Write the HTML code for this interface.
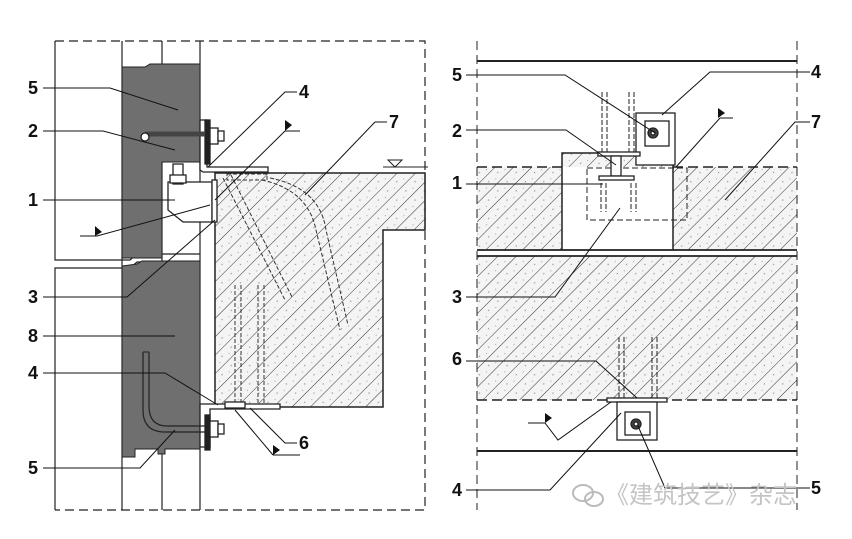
<!DOCTYPE html>
<html><head><meta charset="utf-8"><style>
html,body{margin:0;padding:0;background:#fff;}
svg{display:block;}
text{font-family:"Liberation Sans Narrow","Liberation Sans",sans-serif;font-size:18px;font-weight:bold;fill:#111;}
</style></head><body>
<svg width="852" height="539" viewBox="0 0 852 539" xmlns="http://www.w3.org/2000/svg">
<defs>
<pattern id="h" width="13" height="13" patternUnits="userSpaceOnUse" patternTransform="rotate(45)">
<rect width="13" height="13" fill="#f4f4f4"/>
<line x1="0" y1="0" x2="0" y2="13" stroke="#333" stroke-width="1"/>
<circle cx="6" cy="4" r="0.7" fill="#999"/><circle cx="9" cy="10" r="0.6" fill="#aaa"/>
</pattern>
</defs>
<g fill="none" stroke="#222" stroke-width="1.2">
<path d="M55 41 H425 V510 H55" stroke-dasharray="9 5"/>
<path d="M55 41 V260 H130 L137 254 H200 M55 510 V268 H130 L137 262 H200"/>
<line x1="122" y1="41" x2="122" y2="510"/><line x1="162" y1="41" x2="162" y2="510"/><line x1="200" y1="41" x2="200" y2="510"/>
</g>
<path d="M122 67 L145 67 L150 64 H200 V162 H162 V258 H122 Z" fill="#6f6f6f" stroke="#222"/>
<path d="M122 266 L137 264 L142 261 H200 V449 H165 V454 H158 V449 H135 V457 H122 Z" fill="#6f6f6f" stroke="#222"/>
<path d="M215 173 H425 V230 H383 V407 H215 Z" fill="url(#h)" stroke="#222" stroke-width="1.5"/>
<g fill="none" stroke="#333" stroke-width="1" stroke-dasharray="4 2">
<path d="M223 178 L285 300 M231 175 L292 297"/>
<path d="M262 180 Q308 190 316 230 L340 330 M270 178 Q320 188 326 230 L348 325"/>
<path d="M235 285 V407 M241 285 V407 M258 285 V407 M264 285 V407"/>
<rect x="227" y="174" width="40" height="6"/>
</g>
<g stroke="#222" stroke-width="1.3" fill="#fff">
<path d="M200 120 H207 V167 H268 V172 H203 L200 170 Z"/>
<rect x="205" y="120" width="5" height="44" fill="#222"/>
<rect x="210" y="128" width="8" height="16"/><rect x="218" y="131" width="6" height="10"/>
<path d="M145 134 H205" stroke-width="5" stroke="#444"/>
<circle cx="145" cy="137" r="4"/>
<path d="M168 182 H212 V222 H183 L168 210 Z"/>
<rect x="212" y="180" width="5" height="42" fill="#fff"/>
<rect x="173" y="164" width="10" height="20"/><rect x="170" y="175" width="16" height="8"/>
<path d="M200 404 H280 V409 H210 V447 H200 Z"/>
<rect x="205" y="415" width="5" height="35" fill="#222"/>
<rect x="210" y="421" width="8" height="16"/><rect x="218" y="424" width="6" height="10"/>
<rect x="225" y="402" width="20" height="6"/>
</g>
<path d="M143 352 V410 Q143 432 165 432 H205 M149 352 V406 Q149 426 167 426 H205" fill="none" stroke="#222" stroke-width="1.2"/>
<path d="M143 352 H149" stroke="#222"/>
<path d="M383 167 H428 M388 160 L395 167 L402 160 Z" fill="none" stroke="#222"/>
<g stroke="#111" stroke-width="1" fill="none">
<path d="M43 88 H110 L178 110"/><path d="M43 131 H103 L175 150"/>
<path d="M43 200 H175"/><path d="M43 297 H127 L215 220"/>
<path d="M43 336 H175"/><path d="M43 373 H165 L218 405"/>
<path d="M43 468 H140 L175 430"/>
<path d="M297 92 H285 L208 167"/><path d="M387 122 H375 L305 195"/>
<path d="M297 443 H285 L250 408"/>
<path d="M80 236 H97 L210 205"/>
<path d="M285 131 H300 M285 131 L215 200"/>
<path d="M273 455 H300 M273 455 L235 410"/>
</g>
<g fill="#111"><path d="M95 226 L102 232 L95 236Z"/><path d="M285 120 L292 125 L285 131Z"/><path d="M273 445 L280 450 L273 455Z"/></g>
<text x="28" y="94">5</text><text x="28" y="137">2</text><text x="28" y="206">1</text>
<text x="28" y="303">3</text><text x="28" y="342">8</text><text x="28" y="379">4</text><text x="28" y="474">5</text>
<text x="299" y="98">4</text><text x="389" y="128">7</text><text x="299" y="449">6</text>

<path d="M477 167 H797 V250 H673 V153 H562 V250 H477 Z" fill="url(#h)"/>
<rect x="477" y="256" width="320" height="144" fill="url(#h)"/>
<g stroke="#222" fill="none">
<path d="M477 41 V510 M797 41 V510" stroke-dasharray="9 5"/>
<path d="M477 61 H797 M477 451 H797" stroke-width="2"/>
<path d="M477 250 H797 M477 256 H797" stroke-width="1.8"/>
<path d="M477 167 H562 M673 167 H797 M477 400 H797" stroke-dasharray="10 5" stroke-width="1.5"/>
<path d="M562 250 V153 H640 M673 153 V250" stroke-width="1.5"/>
<rect x="587" y="168" width="100" height="52" stroke-dasharray="6 3"/>
<path d="M602 92 V153 M607 92 V153 M629 92 V153 M634 92 V153 M601 183 V212 M606 183 V212 M631 183 V212 M636 183 V212 M619 337 V398 M624 337 V398 M652 337 V398 M657 337 V398" stroke-dasharray="5 2"/>
</g>
<g stroke="#222" fill="#fff" stroke-width="1.3">
<rect x="636" y="113" width="39" height="52"/><rect x="645" y="121" width="24" height="25"/>
<circle cx="653" cy="133" r="5" fill="#444"/><circle cx="653" cy="133" r="2"/>
<rect x="598" y="152" width="42" height="4"/><rect x="611" y="156" width="10" height="20"/>
<rect x="599" y="176" width="35" height="4"/>
<rect x="607" y="398" width="60" height="4"/>
<rect x="617" y="402" width="40" height="38"/><rect x="625" y="412" width="25" height="23"/>
<circle cx="636" cy="424" r="5" fill="#444"/><circle cx="636" cy="424" r="2"/>
</g>
<g stroke="#111" stroke-width="1" fill="none">
<path d="M466 75 H565 L655 133"/><path d="M810 72 H710 L662 115"/>
<path d="M466 130 H566 L616 165"/><path d="M810 122 H795 L725 200"/>
<path d="M466 184 H603"/><path d="M466 297 H555 L620 208"/>
<path d="M466 361 H596 L637 398"/><path d="M466 490 H550 L621 413"/>
<path d="M810 488 H665 L638 426"/>
<path d="M720 118 H733 M720 118 L676 167"/><path d="M528 423 H545 L558 440 L611 402"/>
</g>
<g fill="#111"><path d="M718 108 L725 113 L718 118Z"/><path d="M545 413 L552 418 L545 423Z"/></g>
<text x="452" y="81">5</text><text x="811" y="78">4</text><text x="452" y="137">2</text>
<text x="811" y="128">7</text><text x="452" y="189">1</text><text x="452" y="303">3</text>
<text x="452" y="365">6</text><text x="452" y="496">4</text><text x="811" y="494">5</text>
<g fill="none" stroke="#bbb" stroke-width="2"><ellipse cx="583" cy="493" rx="10" ry="8"/><ellipse cx="594" cy="499" rx="9" ry="7"/></g>
<text x="605" y="503" style="font-family:'Noto Sans CJK SC',sans-serif;font-size:24px;font-weight:normal;fill:#c4c4c4">《建筑技艺》杂志</text>
</svg>
</body></html>
